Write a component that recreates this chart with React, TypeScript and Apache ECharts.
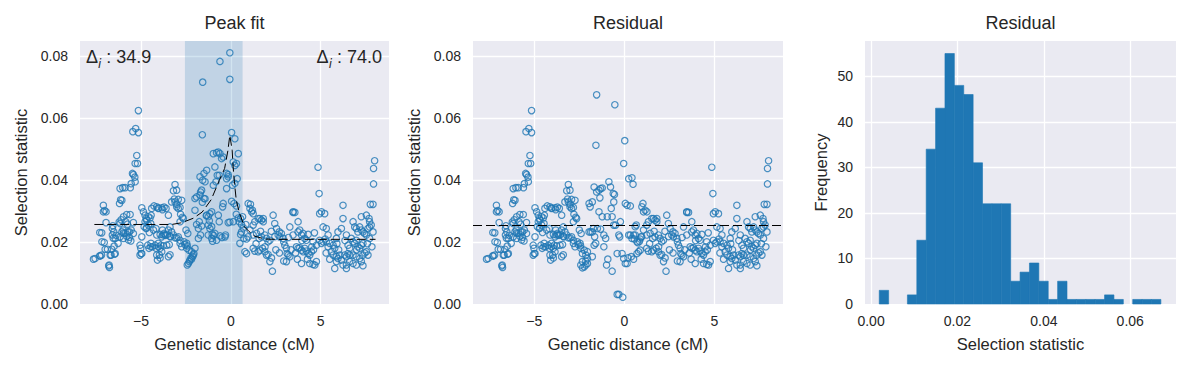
import React, { useEffect, useRef } from "react";
import * as echarts from "echarts";

// ---------- data ----------
// Selection statistic vs genetic distance, left of the peak window (shared by both scatter panels)
const leftPoints: number[][] = [
  [-7.65,0.0145],[-7.56,0.0147],[-7.3,0.0156],[-7.2,0.0158],[-7.28,0.0155],[-7.3,0.0231],[-7.19,0.023],[-7.1,0.0319],[-7.1,0.0298],[-6.95,0.0298],[-7.03,0.0302],[-7.05,0.0199],[-7.18,0.0201],[-7.0,0.0177],[-6.87,0.0177],[-6.63,0.0177],[-6.95,0.0263],[-6.78,0.0126],[-6.76,0.0118],[-6.8,0.0123],[-6.67,0.0158],[-6.72,0.0158],[-6.57,0.0253],[-6.6,0.0244],[-6.52,0.0233],[-6.6,0.0223],[-6.48,0.0161],[-6.44,0.0163],[-6.44,0.0212],[-6.39,0.0222],[-6.55,0.0213],[-6.17,0.026],[-6.11,0.0272],[-6.22,0.0265],[-6.07,0.0233],[-5.98,0.0229],[-6.0,0.0239],[-5.89,0.0228],[-5.8,0.0219],[-5.65,0.0216],[-5.57,0.0204],[-5.7,0.0207],[-5.76,0.0258],[-5.98,0.0282],[-5.8,0.0289],[-5.61,0.0289],[-6.2,0.0325],[-6.14,0.0337],[-6.07,0.0335],[-6.17,0.0373],[-6.02,0.0376],[-5.89,0.0376],[-5.6,0.0376],[-5.55,0.0389],[-5.33,0.0395],[-5.43,0.0418],[-5.48,0.0422],[-5.35,0.041],[-5.33,0.0454],[-5.2,0.0454],[-5.24,0.048],[-5.46,0.0557],[-5.3,0.0567],[-5.15,0.0554],[-5.15,0.0625],[-5.43,0.0263],[-5.55,0.0239],[-5.65,0.0233],[-5.98,0.0212],[-6.17,0.0217],[-6.28,0.0196],[-6.5,0.0187],[-5.85,0.0266],[-5.74,0.0233],[-5.43,0.0228],
  [-5.06,0.019],[-5.02,0.018],[-5.06,0.0158],[-4.96,0.0163],[-5.0,0.0163],[-4.96,0.0311],[-4.87,0.0298],[-4.78,0.0287],[-4.72,0.0276],[-4.78,0.0266],[-4.69,0.0271],[-4.59,0.0282],[-4.5,0.0278],[-4.44,0.0287],[-4.83,0.025],[-4.72,0.0244],[-4.59,0.0255],[-4.46,0.026],[-4.96,0.0217],[-4.69,0.0246],[-4.54,0.0231],[-4.63,0.019],[-4.46,0.0185],[-4.56,0.018],[-4.45,0.0196],[-4.37,0.0185],[-4.28,0.0317],[-4.13,0.0314],[-4.04,0.0309],[-3.85,0.0311],[-4.41,0.0309],[-4.31,0.0239],[-4.17,0.0244],[-4.13,0.0223],[-3.94,0.0225],[-3.85,0.0217],[-3.76,0.0223],[-4.04,0.0196],[-4.22,0.019],[-3.94,0.018],[-3.76,0.0188],[-4.17,0.018],[-4.04,0.0185],[-3.9,0.019],[-4.13,0.0158],[-3.98,0.0158],[-3.85,0.0169],[-4.09,0.0142],[-3.94,0.0149],[-3.48,0.0153],[-3.39,0.0159],[-3.67,0.0223],[-3.54,0.0225],[-3.39,0.0219],[-3.57,0.019],[-3.43,0.0192],[-3.81,0.0239],[-3.72,0.0228],[-3.63,0.0222],[-3.48,0.0239],[-3.37,0.0217],[-3.61,0.0309],[-3.3,0.033],[-3.48,0.0287],[-4.04,0.031],[-3.81,0.0305],[-3.72,0.0313],[-3.11,0.0386],[-3.02,0.0368],[-3.15,0.0339],[-3.2,0.0366],[-3.11,0.033],[-2.93,0.0338],[-2.74,0.0335],[-3.02,0.0322],[-2.83,0.0312],[-3.02,0.0314],[-2.93,0.0309],[-3.39,0.0249],[-3.2,0.0223],[-3.11,0.0214],[-3.02,0.0214],[-2.83,0.0206],[-2.93,0.0217],[-3.3,0.0233],[-2.83,0.0266],[-2.65,0.0276],[-2.8,0.029],[-2.7,0.028],[-2.83,0.0196],[-2.74,0.0185],[-2.61,0.0201],[-2.56,0.0192],[-2.5,0.0239],[-2.4,0.0228],[-2.46,0.0196],[-2.43,0.0188],
];

// Right of the peak window (shared by both scatter panels)
const rightPoints: number[][] = [
  [0.87,0.021],[0.96,0.0217],[1.06,0.0239],[1.24,0.0255],[1.33,0.0266],[1.52,0.0276],[1.61,0.0276],[1.7,0.0271],[1.8,0.0266],[1.24,0.0223],[1.43,0.0228],[1.57,0.0212],[1.7,0.0217],[1.89,0.0223],[1.98,0.0212],[2.07,0.0201],[2.17,0.0206],[1.24,0.018],[1.33,0.0171],[1.52,0.0169],[1.61,0.0174],[1.76,0.018],[1.89,0.0169],[1.98,0.0158],[2.07,0.016],[2.26,0.0149],[2.17,0.0137],[2.31,0.0106],[2.35,0.0287],[2.44,0.026],[2.54,0.0244],[2.63,0.0223],[2.69,0.0233],[2.72,0.0217],[2.81,0.0228],[2.91,0.0212],[2.94,0.0201],[3.0,0.019],[3.09,0.018],[3.13,0.0163],[3.19,0.0158],[3.28,0.0153],[3.09,0.0137],[2.94,0.0139],[3.28,0.0249],[3.46,0.0298],[3.56,0.0296],[3.74,0.0266],[3.83,0.0239],[3.74,0.0233],[3.93,0.0223],[4.02,0.0228],[4.11,0.0212],[4.2,0.0206],[3.46,0.0223],[3.65,0.0185],[3.74,0.018],[3.83,0.0182],[3.93,0.0174],[4.02,0.0169],[4.11,0.018],[4.2,0.0171],[4.3,0.0163],[4.39,0.0158],[4.48,0.0169],[4.39,0.0131],[4.57,0.0128],[4.67,0.0126],[4.76,0.0137],[4.26,0.0145],[3.93,0.0131],[4.85,0.0442],[4.91,0.0357],[4.94,0.0292],[5.04,0.0298],[5.22,0.0292],[5.13,0.0249],[5.31,0.0244],[5.41,0.0223],[4.57,0.0201],[4.76,0.019],[4.94,0.0206],[5.04,0.0196],[5.13,0.0201],[5.31,0.0201],[5.41,0.0185],[5.5,0.0196],[5.69,0.019],[5.78,0.018],[5.87,0.0212],[5.96,0.0233],[5.59,0.0169],[5.69,0.0158],[5.87,0.0153],[5.96,0.0147],[6.06,0.0158],[6.15,0.0142],[6.33,0.0158],[6.43,0.0153],[6.52,0.0163],[6.61,0.0158],[6.24,0.0126],[6.43,0.0115],[5.87,0.0137],[5.78,0.0115],[6.24,0.0319],[6.24,0.0276],[6.15,0.0244],[6.43,0.0223],[6.52,0.019],[6.61,0.018],[6.8,0.0201],[6.89,0.0196],[6.98,0.0206],[7.07,0.0185],[7.17,0.018],[7.26,0.019],[7.35,0.0196],[6.8,0.0266],[6.89,0.0249],[6.98,0.0244],[7.07,0.0233],[7.17,0.0249],[7.26,0.0239],[7.35,0.0233],[7.44,0.0228],[7.54,0.0223],[7.63,0.0244],[7.72,0.0249],[7.81,0.0255],[7.72,0.0266],[7.91,0.0233],[7.72,0.0212],[7.26,0.0282],[7.54,0.0287],[7.69,0.0276],[7.76,0.0322],[7.91,0.0322],[7.94,0.0388],[7.94,0.0438],[8.0,0.0463],[6.8,0.0158],[6.98,0.0153],[7.17,0.0147],[7.35,0.0158],[7.54,0.0169],[7.63,0.0158],[7.35,0.0124],[7.26,0.0137],[6.98,0.0126],[6.8,0.0131],[6.61,0.0137],[6.43,0.0126],
  [1.4,0.0195],[1.9,0.0185],[2.5,0.0175],[2.7,0.0165],[3.35,0.0175],[3.6,0.0165],[3.7,0.0145],[4.5,0.0185],[4.6,0.0175],[5.3,0.0165],[5.5,0.0145],[6.0,0.0175],[6.7,0.0212],[7.0,0.0175],[7.45,0.0165],[2.25,0.0235],[3.2,0.0215],[4.3,0.0225],[5.9,0.0195],[6.35,0.0205],[7.6,0.0195],[7.85,0.0185],[1.65,0.0235],[2.45,0.0218],[3.95,0.0205],[4.65,0.023],[5.25,0.021],[1.8,0.0276],[3.46,0.0296],
];

// Inside the peak window: raw selection statistic (Peak fit panel)
const peakFitPoints: number[][] = [
  [-2.43,0.0126],[-2.37,0.0131],[-2.31,0.0137],[-2.28,0.0142],[-2.22,0.0149],[-2.19,0.0145],[-2.13,0.0153],[-2.09,0.0158],[-2.06,0.0163],[-2.46,0.018],[-2.33,0.0174],[-2.19,0.0169],[-2.0,0.018],[-2.0,0.0303],[-1.91,0.0257],[-1.81,0.0244],[-1.76,0.0266],[-2.0,0.0341],[-1.91,0.0346],[-1.81,0.0212],[-1.69,0.0223],[-1.63,0.0252],[-1.69,0.0362],[-1.63,0.0368],[-1.72,0.0411],[-1.57,0.04],[-1.44,0.0395],[-1.5,0.0422],[-1.35,0.0432],[-1.59,0.0547],[-1.57,0.0717],[-1.5,0.0341],[-1.72,0.0352],[-1.59,0.0329],[-1.44,0.034],[-1.35,0.0287],[-1.26,0.0282],[-1.17,0.0292],[-1.07,0.0298],[-1.37,0.0285],[-1.2,0.0269],[-1.26,0.0255],[-1.17,0.0244],[-1.07,0.025],[-1.26,0.0223],[-1.07,0.0212],[-1.04,0.0226],[-0.96,0.0221],[-1.02,0.0203],[-0.89,0.0228],[-0.8,0.0206],[-0.98,0.0384],[-0.83,0.0395],[-0.89,0.0443],[-0.98,0.0486],[-0.8,0.0489],[-0.7,0.0491],[-0.61,0.0486],[-0.76,0.0416],[-0.65,0.0416],[-0.52,0.047],[-0.43,0.0475],[-0.43,0.0325],[-0.46,0.0314],[-0.3,0.0223],[-0.33,0.0217],[-0.6,0.022],[-0.5,0.0215],[-0.61,0.0784],[-0.7,0.0287],[-0.65,0.0266],[-0.24,0.0405],[-0.15,0.0418],[-0.24,0.0373],[-0.24,0.0422],[-0.15,0.0411],[-0.15,0.0263],[-0.06,0.0265],[0.13,0.0266],[-0.06,0.0812],[-0.06,0.0726],[0.04,0.0554],[0.22,0.0534],[0.13,0.0459],[0.22,0.0448],[0.31,0.0454],[0.41,0.0486],[0.09,0.0384],[0.22,0.039],[0.35,0.0405],[0.04,0.0332],[0.17,0.0325],[0.31,0.0317],[0.3,0.029],[0.41,0.0278],[0.54,0.0276],[0.65,0.0282],[0.46,0.0266],[0.59,0.0257],[0.69,0.0246],[0.59,0.0233],[0.54,0.0225],[0.5,0.0196],[0.78,0.0169],[0.87,0.0163],[0.72,0.0212],[0.83,0.0257],[0.96,0.0325],[1.09,0.0322],[1.06,0.0309],[1.15,0.0298],[1.2,0.0303],[1.24,0.0292],
];

// Inside the peak window: residual after removing the fitted peak (Residual panel)
const peakResidualPoints: number[][] = [
  [-2.42,0.0126],[-2.33,0.0117],[-2.23,0.012],[-2.14,0.0126],[-2.05,0.0131],[-2.33,0.0137],[-2.14,0.0139],[-2.05,0.0147],[-2.42,0.018],[-2.23,0.0174],[-2.33,0.0163],[-2.14,0.0158],[-2.05,0.0169],[-1.96,0.0233],[-1.87,0.0233],[-1.78,0.0233],[-1.72,0.0244],[-1.65,0.0217],[-1.59,0.0196],[-1.68,0.019],[-1.78,0.0153],[-1.96,0.0325],[-1.9,0.0314],[-1.78,0.033],[-1.68,0.0378],[-1.54,0.0362],[-1.41,0.0368],[-1.32,0.0373],[-1.23,0.0375],[-1.36,0.0343],[-1.41,0.0298],[-1.5,0.0244],[-1.32,0.0242],[-1.58,0.0513],[-1.54,0.0676],[-1.23,0.0282],[-1.14,0.0223],[-1.04,0.0212],[-1.14,0.0185],[-0.95,0.0282],[-0.86,0.0395],[-0.77,0.0378],[-0.73,0.0309],[-0.62,0.0357],[-0.59,0.033],[-0.55,0.0354],[-0.68,0.0282],[-0.59,0.0255],[-0.49,0.0255],[-0.99,0.0126],[-0.92,0.0145],[-0.68,0.0106],[-0.4,0.0031],[-0.31,0.0031],[-0.09,0.0022],[-0.53,0.0644],[-0.4,0.0163],[-0.31,0.0223],[-0.22,0.0266],[-0.26,0.0217],[-0.13,0.0163],[-0.04,0.0147],[0.05,0.0131],[0.15,0.0131],[-0.04,0.0454],[0.02,0.0528],[0.05,0.0325],[0.15,0.0319],[0.24,0.0405],[0.42,0.0408],[0.33,0.0317],[0.48,0.0387],[0.24,0.0223],[0.33,0.0223],[0.51,0.0223],[0.6,0.0223],[0.42,0.0212],[0.55,0.021],[0.66,0.0255],[0.6,0.025],[0.2,0.0149],[0.38,0.0153],[0.51,0.0145],[0.7,0.0163],[0.79,0.0169],[0.88,0.0174],[0.7,0.0201],[0.75,0.0198],[0.84,0.0203],[0.92,0.0217],[0.97,0.0314],[1.03,0.0325],[1.06,0.0298],[1.15,0.0303],[1.25,0.0298],
];

// Fitted peak curve (dashed)
const fitCurve: number[][] = [
  [-7.6,0.0257],[-3.3,0.0257],[-2.8,0.0262],[-2.5,0.0268],[-2.1,0.0277],[-1.6,0.0297],[-1.1,0.0337],[-0.65,0.0399],[-0.35,0.0438],[-0.17,0.0495],[-0.06,0.0545],[0.07,0.0497],[0.11,0.0454],[0.2,0.039],[0.3,0.0335],[0.48,0.0293],[0.76,0.0249],[1.0,0.0235],[1.33,0.0219],[1.89,0.021],[2.5,0.0209],[8.05,0.0209],
];

const peakWindow = [-2.56, 0.65];
const residualBaseline = 0.0255;
const deltaLeft = "34.9";
const deltaRight = "74.0";

// Histogram of residuals
const histCounts = [3,0,0,2,14,34,43,55,48,46,31,22,22,22,5,7,9,5,1,5,1,1,1,1,2,1,0,1,1,1];
const histMin = 0.0019;
const histMax = 0.0671;

// ---------- styling ----------
const FONT = '"Liberation Sans", Arial, Helvetica, sans-serif';
const TXT = "#262626";
const BLUE = "#1f77b4";
const BG = "#EAEAF2";

const fmt2 = (v: number) => (Math.abs(v) < 1e-9 ? 0 : v).toFixed(2);
const fmtX = (v: number) => String(Math.round(v)).replace("-", "\u2212");

const splitLine = { show: true, showMinLine: false, showMaxLine: false, lineStyle: { color: "#ffffff", width: 1.3 } };
const labelBase = { fontSize: 14, color: TXT, fontFamily: FONT };
const nameStyle = { fontSize: 16.5, color: TXT, fontFamily: FONT };

export default function App() {
  const ref = useRef<HTMLDivElement>(null);

  useEffect(() => {
    document.body.style.margin = "0";
    if (!ref.current) return;
    const chart = echarts.init(ref.current, undefined, { renderer: "svg" });

    const binW = (histMax - histMin) / histCounts.length;
    const histData = histCounts.map((c, i) => [histMin + i * binW, histMin + (i + 1) * binW, c]);

    const grids = [
      { left: 80, top: 41, width: 309, height: 263 },
      { left: 473, top: 41, width: 310, height: 263 },
      { left: 865, top: 41, width: 311, height: 263 },
    ].map((g) => ({ ...g, show: true, backgroundColor: BG, borderWidth: 0 }));

    const distAxis = (gi: number) => ({
      gridIndex: gi,
      type: "value",
      min: -8.4,
      max: 8.8,
      splitNumber: 3,
      minInterval: 5,
      maxInterval: 5,
      axisLine: { show: false },
      axisTick: { show: false },
      splitLine,
      axisLabel: { ...labelBase, margin: 10, showMinLabel: false, showMaxLabel: false, formatter: fmtX },
      name: "Genetic distance (cM)",
      nameLocation: "middle",
      nameGap: 31,
      nameTextStyle: nameStyle,
    });
    const selAxis = (gi: number) => ({
      gridIndex: gi,
      type: "value",
      min: 0,
      max: 0.085,
      interval: 0.02,
      axisLine: { show: false },
      axisTick: { show: false },
      splitLine,
      axisLabel: { ...labelBase, margin: 12, showMaxLabel: false, formatter: fmt2 },
      name: "Selection statistic",
      nameLocation: "middle",
      nameGap: 51,
      nameTextStyle: nameStyle,
    });

    const scatterStyle = {
      type: "scatter",
      symbol: "circle",
      symbolSize: 6.4,
      itemStyle: { color: "rgba(0,0,0,0)", borderColor: BLUE, borderWidth: 1.2 },
      silent: true,
      z: 3,
    };

    const richDelta = (val: string) => ({
      text: `{a|\u0394}{b|i}{a| : ${val}}`,
      rich: {
        a: { fontSize: 18, fontFamily: FONT, fill: TXT, lineHeight: 26, verticalAlign: "middle" },
        b: { fontSize: 12, fontFamily: "DejaVu Sans", fontStyle: "italic", fill: TXT, lineHeight: 15, verticalAlign: "bottom" },
      },
    });

    const titleText = (x: number, t: string) => ({
      type: "text",
      x,
      y: 22.5,
      silent: true,
      style: { text: t, fontSize: 18, fontFamily: FONT, fill: TXT, align: "center", verticalAlign: "middle" },
    });

    chart.setOption({
      animation: false,
      grid: grids,
      xAxis: [
        distAxis(0),
        distAxis(1),
        {
          gridIndex: 2,
          type: "value",
          min: -0.0014,
          max: 0.0706,
          splitNumber: 4,
          minInterval: 0.02,
          maxInterval: 0.02,
          axisLine: { show: false },
          axisTick: { show: false },
          splitLine,
          axisLabel: { ...labelBase, margin: 10, showMinLabel: false, showMaxLabel: false, formatter: fmt2 },
          name: "Selection statistic",
          nameLocation: "middle",
          nameGap: 31,
          nameTextStyle: nameStyle,
        },
      ],
      yAxis: [
        selAxis(0),
        selAxis(1),
        {
          gridIndex: 2,
          type: "value",
          min: 0,
          max: 57.75,
          interval: 10,
          axisLine: { show: false },
          axisTick: { show: false },
          splitLine,
          axisLabel: { ...labelBase, margin: 12, showMaxLabel: false },
          name: "Frequency",
          nameLocation: "middle",
          nameGap: 36,
          nameTextStyle: nameStyle,
        },
      ],
      series: [
        {
          type: "line",
          xAxisIndex: 0,
          yAxisIndex: 0,
          data: [],
          z: 1,
          silent: true,
          markArea: {
            silent: true,
            itemStyle: { color: "rgba(31,119,180,0.2)" },
            data: [[{ xAxis: peakWindow[0] }, { xAxis: peakWindow[1] }]],
          },
        },
        { ...scatterStyle, xAxisIndex: 0, yAxisIndex: 0, data: [...leftPoints, ...peakFitPoints, ...rightPoints] },
        {
          type: "line",
          xAxisIndex: 0,
          yAxisIndex: 0,
          data: fitCurve,
          showSymbol: false,
          symbol: "none",
          silent: true,
          z: 4,
          lineStyle: { color: "#000", width: 1, type: [9, 4] },
        },
        { ...scatterStyle, xAxisIndex: 1, yAxisIndex: 1, data: [...leftPoints, ...peakResidualPoints, ...rightPoints] },
        {
          type: "line",
          xAxisIndex: 1,
          yAxisIndex: 1,
          data: [],
          silent: true,
          z: 4,
          markLine: {
            silent: true,
            precision: 6,
            symbol: ["none", "none"],
            label: { show: false },
            lineStyle: { color: "#000", width: 1, type: [9, 4] },
            data: [{ yAxis: residualBaseline }],
          },
        },
        {
          type: "custom",
          xAxisIndex: 2,
          yAxisIndex: 2,
          silent: true,
          data: histData,
          encode: { x: [0, 1], y: 2 },
          renderItem: (params: any, api: any) => {
            const x0 = api.value(0);
            const x1 = api.value(1);
            const c = api.value(2);
            if (!c) return null;
            const p0 = api.coord([x0, c]);
            const p1 = api.coord([x1, 0]);
            return {
              type: "rect",
              shape: { x: p0[0], y: p0[1], width: p1[0] - p0[0], height: p1[1] - p0[1] },
              style: { fill: BLUE, stroke: BLUE, lineWidth: 0.6 },
            };
          },
        },
      ],
      graphic: [
        titleText(234.5, "Peak fit"),
        titleText(628, "Residual"),
        titleText(1020.5, "Residual"),
        { type: "text", x: 86, y: 57, silent: true, z: 10, style: { ...richDelta(deltaLeft), align: "left", verticalAlign: "middle" } },
        { type: "text", x: 382, y: 57, silent: true, z: 10, style: { ...richDelta(deltaRight), align: "right", verticalAlign: "middle" } },
      ],
    });

    return () => chart.dispose();
  }, []);

  return <div ref={ref} style={{ width: 1191, height: 368 }} />;
}
